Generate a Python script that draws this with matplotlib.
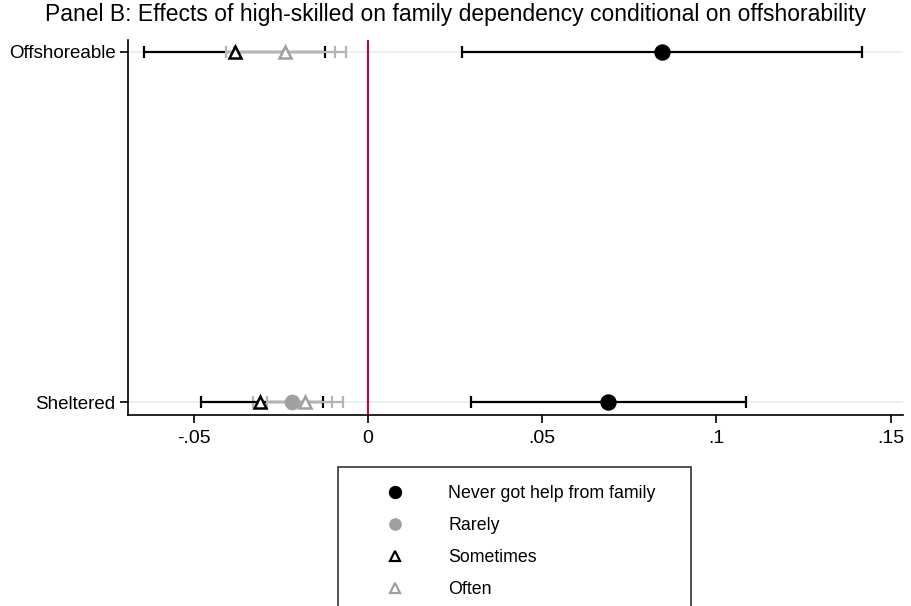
import matplotlib
matplotlib.use("Agg")
import numpy as np
import matplotlib.pyplot as plt
from matplotlib.lines import Line2D
from matplotlib.patches import Rectangle

plt.rcParams["font.family"] = ["Liberation Sans", "DejaVu Sans"]

groups = ["Sheltered", "Offshoreable"]
series = ["Never got help from family", "Rarely", "Sometimes", "Often"]

# point estimates and 95% CI, one entry per group (Sheltered, Offshoreable)
never_b = [0.0688, 0.0843]
never_lo = [0.0296, 0.0270]
never_hi = [0.1085, 0.1417]

# no point shown for the offshoreable "rarely" estimate, only its interval
rarely_b = [-0.0218, np.nan]
rarely_lo = [-0.0329, -0.0383]
rarely_hi = [-0.0103, -0.0094]

sometimes_b = [-0.0308, -0.0380]
sometimes_lo = [-0.0478, -0.0643]
sometimes_hi = [-0.0129, -0.0122]

often_b = [-0.0179, -0.0237]
often_lo = [-0.0288, -0.0406]
often_hi = [-0.0071, -0.0062]

xticks = [-0.05, 0, 0.05, 0.1, 0.15]
xticklabels = ["-.05", "0", ".05", ".1", ".15"]

styles = [
    dict(marker="o", color="black", ecolor="black", mfc="black", ms=10),
    dict(marker="o", color="#a0a0a0", ecolor="#b4b4b4", mfc="#a0a0a0", ms=9.5),
    dict(marker="^", color="black", ecolor="black", mfc="white", ms=8.5),
    dict(marker="^", color="#a0a0a0", ecolor="#b4b4b4", mfc="white", ms=8.5),
]
data = [
    (never_b, never_lo, never_hi),
    (rarely_b, rarely_lo, rarely_hi),
    (sometimes_b, sometimes_lo, sometimes_hi),
    (often_b, often_lo, often_hi),
]

fig = plt.figure(figsize=(9.11, 6.06), dpi=100)
ax = fig.add_axes([128 / 911, 1 - 415 / 606, (903 - 128) / 911, (415 - 40) / 606])

ypos = list(range(len(groups)))
for y in ypos:
    ax.axhline(y, color="#e6eff1", lw=1.2, zorder=0)
ax.axvline(0, color="#c8003c", lw=1.5, zorder=1)

for (b, lo, hi), st in zip(data, styles):
    ax.hlines(ypos, lo, hi, color=st["ecolor"], lw=1.6, zorder=2)
    ax.plot(lo + hi, ypos + ypos, ls="none", marker="|", ms=8,
            mew=1.6, color=st["ecolor"], zorder=2)
    ax.plot(b, ypos, ls="none", marker=st["marker"], color=st["color"],
            mfc=st["mfc"], mec=st["color"], mew=1.8, ms=st["ms"], zorder=3)

ax.set_xlim(-0.0688, 0.1535)
ax.set_ylim(-0.037, 1.034)
ax.set_yticks(ypos)
ax.set_yticklabels(groups, fontsize=13.5)
ax.set_xticks(xticks)
ax.set_xticklabels(xticklabels, fontsize=14)
ax.spines["top"].set_visible(False)
ax.spines["right"].set_visible(False)
for s in ("left", "bottom"):
    ax.spines[s].set_linewidth(1.2)
ax.tick_params(axis="both", length=6, width=1.2, color="black")
ax.tick_params(axis="x", pad=5)
ax.tick_params(axis="y", pad=3)

fig.text(0.5, 1 - 14 / 606, "Panel B: Effects of high-skilled on family dependency "
         "conditional on offshorability", ha="center", va="center", fontsize=16.5)

# legend: markers only, inside a box that runs past the bottom edge
handles = [Line2D([], [], ls="none", marker=st["marker"], color=st["color"],
                  mfc=st["mfc"], mec=st["color"], mew=1.6,
                  ms=st["ms"] - 2) for st in styles]
leg = fig.legend(handles, series, loc="upper left",
                 bbox_to_anchor=(368 / 911, 1 - 469 / 606), frameon=False,
                 fontsize=12.8, handlelength=1.2, handletextpad=2.4,
                 labelspacing=0.85)
fig.add_artist(Rectangle((338 / 911, -0.05), (691 - 338) / 911,
                         (606 - 467) / 606 + 0.05, transform=fig.transFigure,
                         fill=False, edgecolor="#333333", lw=1.2))

fig.savefig("out.png", dpi=100)
